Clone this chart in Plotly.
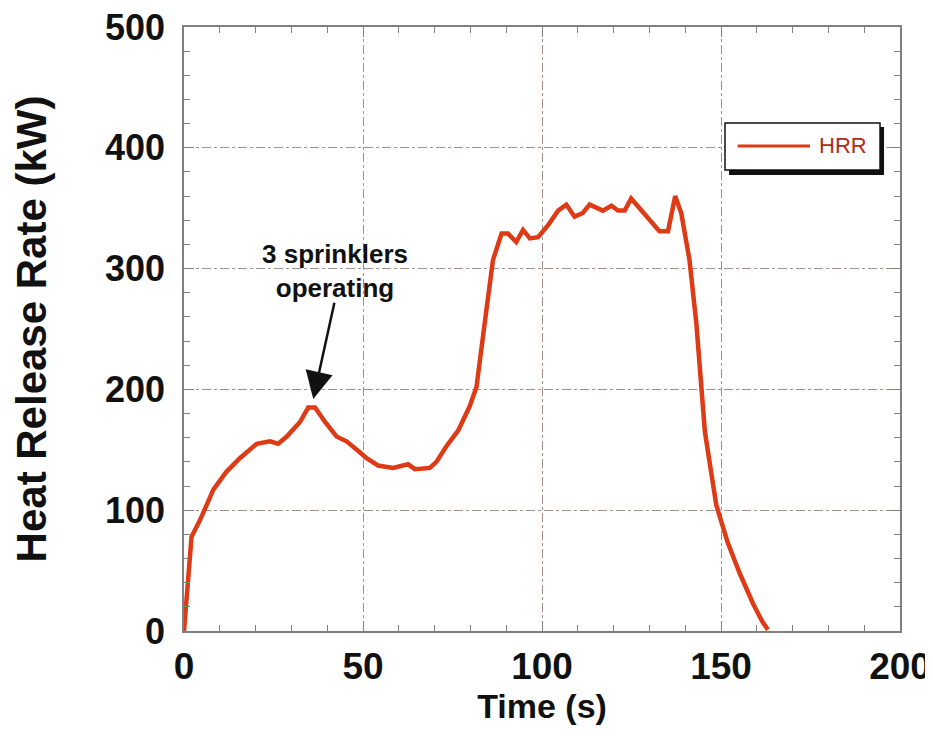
import plotly.graph_objects as go

# Data
time_s = [0, 2.1, 4.5, 8.2, 11.9, 15.6, 20.3, 24, 26.3, 28.7, 32.4, 34.7, 36.6, 39.4,
          42.6, 45.4, 49.1, 51, 54.2, 58.4, 62.6, 64.5, 68.7, 70.5, 73.3, 76.6, 79.8,
          81.7, 84, 86.3, 88.7, 90.5, 92.8, 94.7, 96.6, 98.9, 101.7, 104.5, 106.8,
          109.1, 111.4, 113.3, 117, 119.4, 121.2, 123.1, 124.9, 127.3, 130.5, 132.8,
          135.2, 137.2, 138.9, 141.2, 143.1, 144.5, 145.5, 146.8, 148.7, 151.9, 155.2,
          158.9, 161.5, 163.1]
hrr_kw = [0, 78, 92, 117, 132, 143, 155, 157, 155, 161, 173, 185, 185, 173,
          161, 157, 148, 143, 137, 135, 138, 134, 135, 140, 153, 166, 186,
          202, 255, 307, 329, 329, 322, 332, 325, 326, 336, 348, 353,
          343, 346, 353, 348, 352, 348, 348, 358, 350, 339, 331,
          331, 360, 346, 307, 255, 202, 165, 140, 104, 73, 48,
          23, 8, 1]

x_ticks = [0, 50, 100, 150, 200]
y_ticks = [0, 100, 200, 300, 400, 500]
series_name = "HRR"

LINE_COLOR = "#de3a16"
FONT = "Liberation Sans"
AXIS_COLOR = "#808080"
GRID_COLOR = "#a48f8a"

fig = go.Figure()
fig.add_trace(go.Scatter(x=time_s, y=hrr_kw, mode="lines", name=series_name,
                         line=dict(color=LINE_COLOR, width=4.5), showlegend=False))

axis_common = dict(
    showline=True, linecolor=AXIS_COLOR, linewidth=1.5, mirror="ticks",
    ticks="inside", tickcolor=AXIS_COLOR, tickwidth=1,
    showgrid=True, gridcolor=GRID_COLOR, griddash="dashdot", gridwidth=1,
    zeroline=False, automargin=False, ticklabeloverflow="allow",
)

fig.update_xaxes(
    range=[0, 200], tickvals=x_ticks, ticktext=[str(v) for v in x_ticks],
    ticklen=10, ticklabelstandoff=2,
    minor=dict(dtick=10, ticks="inside", ticklen=6, tickcolor=AXIS_COLOR, showgrid=False),
    tickfont=dict(family=FONT, size=37, color="#111111", weight="bold"),
    title=dict(text="Time (s)", font=dict(family=FONT, size=34, color="#111111", weight="bold"),
               standoff=6),
    **axis_common,
)
fig.update_yaxes(
    range=[0, 500], tickvals=y_ticks, ticktext=[str(v) for v in y_ticks],
    ticklen=10, ticklabelstandoff=10,
    minor=dict(dtick=20, ticks="inside", ticklen=6, tickcolor=AXIS_COLOR, showgrid=False),
    tickfont=dict(family=FONT, size=36, color="#111111", weight="bold"),
    title=dict(text="Heat Release Rate (kW)",
               font=dict(family=FONT, size=42, color="#111111", weight="bold"),
               standoff=47),
    **axis_common,
)

# Manual legend box with drop shadow
shapes = [
    dict(type="rect", xref="paper", yref="paper", x0=0.7612, x1=0.9777, y0=0.755, y1=0.8344,
         fillcolor="#111111", line=dict(width=0), layer="above"),
    dict(type="rect", xref="paper", yref="paper", x0=0.7556, x1=0.9721, y0=0.7632, y1=0.8411,
         fillcolor="white", line=dict(color="#111111", width=1.5), layer="above"),
    dict(type="line", xref="paper", yref="paper", x0=0.7733, x1=0.8743, y0=0.803, y1=0.803,
         line=dict(color=LINE_COLOR, width=3), layer="above"),
]

annotations = [
    dict(xref="paper", yref="paper", x=0.884, y=0.803, xanchor="left", yanchor="middle",
         text=series_name, showarrow=False,
         font=dict(family=FONT, size=22, color="#b02a1a")),
    dict(x=42.1, y=298, xref="x", yref="y", text="3 sprinklers<br>operating",
         showarrow=False, xanchor="center", yanchor="middle",
         font=dict(family=FONT, size=26, color="#111111", weight="bold")),
    dict(x=36.1, y=192, xref="x", yref="y", ax=42.1, ay=273, axref="x", ayref="y",
         text="", showarrow=True, arrowhead=2, arrowsize=2.2, arrowwidth=2.5,
         arrowcolor="#111111", standoff=0, startstandoff=0),
]

# The page body has an 8px default margin, so the figure is sized to fill the window
fig.update_layout(
    width=925, height=728,
    margin=dict(l=176, r=33, t=19, b=105),
    paper_bgcolor="white", plot_bgcolor="white",
    shapes=shapes, annotations=annotations,
    showlegend=False,
    font=dict(family=FONT),
)

fig.write_html("out.html")
